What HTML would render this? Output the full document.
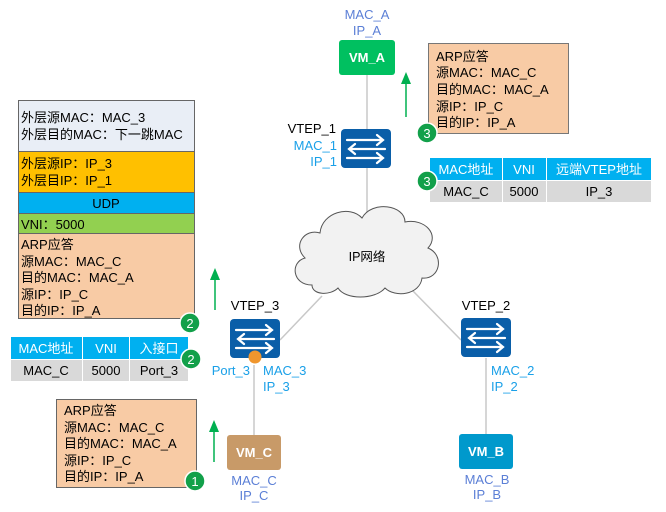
<!DOCTYPE html>
<html><head><meta charset="utf-8"><style>
body{margin:0;background:#fff;}
svg{display:block;font-family:"Liberation Sans","Noto Sans CJK SC",sans-serif;font-size:13px;}
</style></head><body>
<svg width="666" height="512" viewBox="0 0 666 512" xmlns="http://www.w3.org/2000/svg">
<defs>
<g id="sw">
<rect x="0" y="0" width="50" height="39" rx="4" fill="#0a5ea8"/>
<g stroke="#fff" stroke-width="2.2" fill="none" stroke-linecap="round">
<path d="M6 11 H42 M36 6 L42 11 L36 16"/>
<path d="M44 20 H8 M14 15 L8 20 L14 25"/>
<path d="M6 29 H42 M36 24 L42 29 L36 34"/>
</g>
</g>
</defs>
<g stroke="#c8c8c8" stroke-width="1.5" fill="none">
<line x1="367" y1="75" x2="367" y2="215"/>
<line x1="280" y1="340" x2="322" y2="296"/>
<line x1="412" y1="290" x2="461" y2="340"/>
<line x1="486" y1="358" x2="486" y2="434"/>
<line x1="254" y1="365" x2="254" y2="435"/>
</g>
<path d="M312 285 C292 285 290 262 305 258 C292 245 305 228 320 233 C322 212 350 205 362 218 C372 200 405 205 405 222 C425 218 440 235 428 248 C445 255 440 280 422 278 C420 295 395 298 385 288 C375 300 345 300 338 288 C330 296 312 295 312 285 Z" fill="#f2f2f2" stroke="#555" stroke-width="1"/>
<text x="367" y="261" text-anchor="middle" font-size="12.5">IP网络</text>
<text x="367" y="19" text-anchor="middle" fill="#5b7fd6">MAC_A</text>
<text x="367" y="35" text-anchor="middle" fill="#5b7fd6">IP_A</text>
<rect x="339" y="40" width="56" height="35" rx="3" fill="#00c060"/>
<text x="367" y="62" text-anchor="middle" fill="#fff" font-weight="bold" font-size="13">VM_A</text>
<use href="#sw" x="341" y="129"/>
<text x="336" y="133" text-anchor="end">VTEP_1</text>
<text x="337" y="150" text-anchor="end" fill="#1aa0e8">MAC_1</text>
<text x="337" y="166" text-anchor="end" fill="#1aa0e8">IP_1</text>
<line x1="406" y1="117" x2="406" y2="82" stroke="#00b050" stroke-width="1.5"/>
<path d="M401 84 L406 72 L411 84 Z" fill="#00b050"/>
<rect x="428.5" y="43.5" width="140" height="90" fill="#f8cba5" stroke="#777"/>
<g><text x="436" y="61">ARP应答</text><text x="436" y="77">源MAC：MAC_C</text><text x="436" y="94">目的MAC：MAC_A</text><text x="436" y="111">源IP：IP_C</text><text x="436" y="127">目的IP：IP_A</text></g>
<rect x="430" y="158" width="72" height="22" fill="#00b0f0"/><rect x="503" y="158" width="43" height="22" fill="#00b0f0"/><rect x="547" y="158" width="104" height="22" fill="#00b0f0"/>
<rect x="430" y="181" width="72" height="21" fill="#d9d9d9"/><rect x="503" y="181" width="43" height="21" fill="#d9d9d9"/><rect x="547" y="181" width="104" height="21" fill="#d9d9d9"/>
<g text-anchor="middle"><text x="466" y="174" fill="#fff">MAC地址</text><text x="524" y="174" fill="#fff">VNI</text><text x="599" y="174" fill="#fff">远端VTEP地址</text>
<text x="466" y="196">MAC_C</text><text x="524" y="196">5000</text><text x="599" y="196">IP_3</text></g>
<rect x="18.5" y="100.5" width="176" height="51" fill="#e9eef6" stroke="#666"/>
<rect x="18.5" y="151.5" width="176" height="41" fill="#ffc000" stroke="#666"/>
<rect x="18.5" y="192.5" width="176" height="21" fill="#00b0f0" stroke="#666"/>
<rect x="18.5" y="213.5" width="176" height="20" fill="#92d050" stroke="#666"/>
<rect x="18.5" y="233.5" width="176" height="85" fill="#f8cba5" stroke="#666"/>
<g><text x="21" y="122">外层源MAC：MAC_3</text><text x="21" y="139">外层目的MAC：下一跳MAC</text>
<text x="21" y="168">外层源IP：IP_3</text><text x="21" y="185">外层目IP：IP_1</text>
<text x="106" y="208" text-anchor="middle">UDP</text><text x="21" y="229">VNI：5000</text>
<text x="21" y="249">ARP应答</text><text x="21" y="266">源MAC：MAC_C</text><text x="21" y="282">目的MAC：MAC_A</text><text x="21" y="299">源IP：IP_C</text><text x="21" y="315">目的IP：IP_A</text></g>
<rect x="11" y="337" width="71" height="22" fill="#00b0f0"/><rect x="83" y="337" width="46" height="22" fill="#00b0f0"/><rect x="130" y="337" width="58" height="22" fill="#00b0f0"/>
<rect x="11" y="360" width="71" height="21" fill="#d9d9d9"/><rect x="83" y="360" width="46" height="21" fill="#d9d9d9"/><rect x="130" y="360" width="58" height="21" fill="#d9d9d9"/>
<g text-anchor="middle"><text x="46" y="353" fill="#fff">MAC地址</text><text x="106" y="353" fill="#fff">VNI</text><text x="159" y="353" fill="#fff">入接口</text>
<text x="46" y="375">MAC_C</text><text x="106" y="375">5000</text><text x="159" y="375">Port_3</text></g>
<line x1="215" y1="310" x2="215" y2="278" stroke="#00b050" stroke-width="1.5"/>
<path d="M210 280 L215 268 L220 280 Z" fill="#00b050"/>
<use href="#sw" x="230" y="319"/>
<text x="255" y="310" text-anchor="middle">VTEP_3</text>
<circle cx="255" cy="357" r="6.5" fill="#f0962e"/>
<text x="250" y="375" text-anchor="end" fill="#1aa0e8">Port_3</text>
<text x="263" y="375" fill="#1aa0e8">MAC_3</text>
<text x="263" y="391" fill="#1aa0e8">IP_3</text>
<use href="#sw" x="461" y="318"/>
<text x="486" y="310" text-anchor="middle">VTEP_2</text>
<text x="491" y="375" fill="#1aa0e8">MAC_2</text>
<text x="491" y="391" fill="#1aa0e8">IP_2</text>
<rect x="227" y="435" width="54" height="35" rx="3" fill="#c89a68"/>
<text x="254" y="457" text-anchor="middle" fill="#fff" font-weight="bold" font-size="13">VM_C</text>
<text x="254" y="485" text-anchor="middle" fill="#5b7fd6">MAC_C</text>
<text x="254" y="500" text-anchor="middle" fill="#5b7fd6">IP_C</text>
<rect x="459" y="434" width="54" height="35" rx="3" fill="#0099cc"/>
<text x="486" y="456" text-anchor="middle" fill="#fff" font-weight="bold" font-size="13">VM_B</text>
<text x="487" y="484" text-anchor="middle" fill="#5b7fd6">MAC_B</text>
<text x="487" y="499" text-anchor="middle" fill="#5b7fd6">IP_B</text>
<rect x="56.5" y="399.5" width="140" height="88" fill="#f8cba5" stroke="#666"/>
<g><text x="64" y="415">ARP应答</text><text x="64" y="432">源MAC：MAC_C</text><text x="64" y="448">目的MAC：MAC_A</text><text x="64" y="465">源IP：IP_C</text><text x="64" y="481">目的IP：IP_A</text></g>
<line x1="214" y1="462" x2="214" y2="430" stroke="#00b050" stroke-width="1.5"/>
<path d="M209 432 L214 420 L219 432 Z" fill="#00b050"/>
<g fill="#12a04a" stroke="#fff" stroke-width="1.5">
<circle cx="427" cy="133" r="10"/><circle cx="427" cy="181" r="10"/>
<circle cx="190" cy="323" r="10"/><circle cx="191" cy="359" r="10"/>
<circle cx="195" cy="481" r="10"/>
</g>
<g fill="#fff" text-anchor="middle" font-size="13">
<text x="427" y="138">3</text><text x="427" y="186">3</text>
<text x="190" y="328">2</text><text x="191" y="364">2</text>
<text x="195" y="486">1</text>
</g>
</svg>
</body></html>
